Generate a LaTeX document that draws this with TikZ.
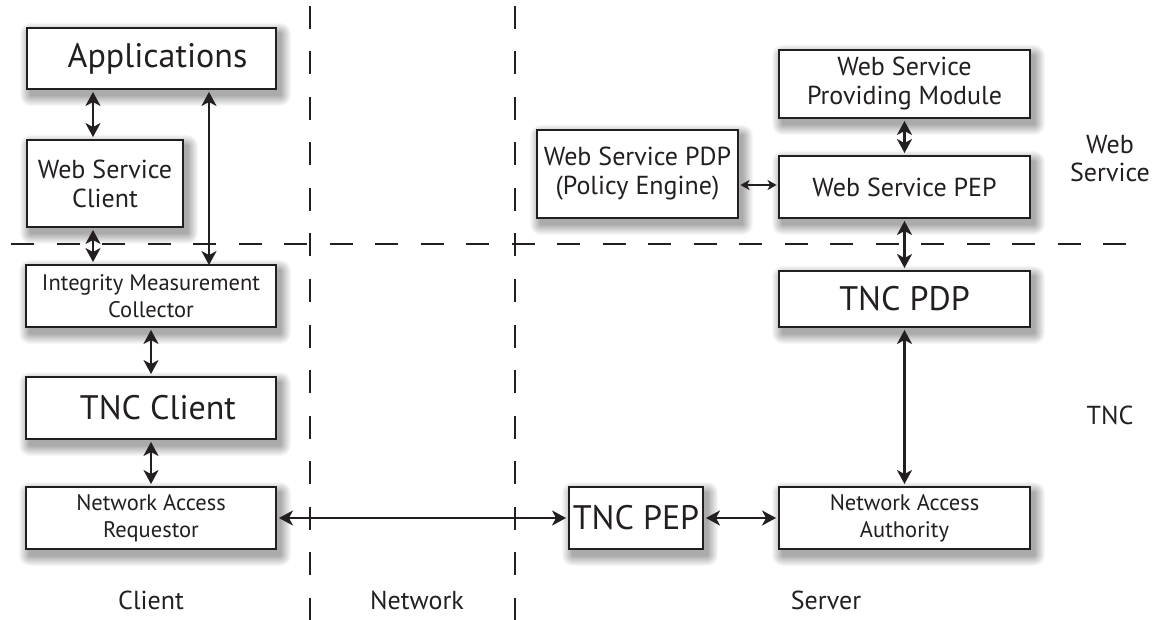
\documentclass[tikz,border=0pt]{standalone}
\usepackage{fontspec}
\setmainfont{PT Sans}
\usetikzlibrary{arrows.meta}
\definecolor{ink}{HTML}{231F20}
% soft drop shadow for a box given by centre (#1,#2), width #3 and height #4
\newcommand{\boxhalo}[4]{%
  \foreach \i in {11,...,1}{%
    \pgfmathtruncatemacro{\lvl}{3*(12-\i)}%
    \fill[black!\lvl, rounded corners=\i pt]
      ({#1-#3/2+4-\i},{#2-#4/2+6-\i}) rectangle ({#1+#3/2+4+\i},{#2+#4/2+6+\i});
  }%
}
\begin{document}
\begin{tikzpicture}[x=1pt,y=-1pt,
  box/.style={draw=ink, line width=1.9pt, fill=white, inner sep=0pt, align=center, text=ink},
  link/.style={draw=ink, line width=2.2pt,
    {Stealth[length=14pt,width=15pt,inset=4pt]}-{Stealth[length=14pt,width=15pt,inset=4pt]},
    shorten <=2pt, shorten >=2pt},
  thinlink/.style={draw=ink, line width=1.6pt,
    {Stealth[length=9pt,width=10pt,inset=2.5pt]}-{Stealth[length=9pt,width=10pt,inset=2.5pt]},
    shorten <=1.5pt, shorten >=1.5pt},
  divider/.style={draw=ink, line width=1.7pt, dash pattern=on 23pt off 22.5pt},
  big/.style={font=\fontsize{34}{38}\selectfont},
  mid/.style={font=\fontsize{26}{29}\selectfont},
  small/.style={font=\fontsize{22.5}{27}\selectfont},
  lbl/.style={text=ink, font=\fontsize{26}{28}\selectfont, align=center, inner sep=0pt}]

\useasboundingbox (0,0) rectangle (1156,620);

% shadows under the boxes
\boxhalo{151.5}{58.5}{249}{61}
\boxhalo{105}{183.5}{156}{87}
\boxhalo{151}{296}{250}{62}
\boxhalo{151}{408}{250}{62}
\boxhalo{151}{518}{250}{62}
\boxhalo{636}{518}{134}{62}
\boxhalo{904.5}{518}{251}{62}
\boxhalo{904.5}{299}{251}{56}
\boxhalo{904.5}{187}{251}{62}
\boxhalo{904.5}{84}{251}{68}
\boxhalo{637.5}{174}{201}{88}

% region dividers
\draw[divider] (310,6) -- (310,620);
\draw[divider] (515,6) -- (515,620);
\draw[divider] (11,244) -- (1127,244);

% client side
\node[box, big, minimum width=249pt, minimum height=61pt] (app) at (151.5,58.5) {\hspace*{12pt}Applications};
\node[box, mid, minimum width=156pt, minimum height=87pt] (wsc) at (105,183.5) {Web Service\\Client};
\node[box, small, minimum width=250pt, minimum height=62pt] (imc) at (151,296) {Integrity Measurement\\Collector};
\node[box, big, minimum width=250pt, minimum height=62pt] (tncc) at (151,408) {\hspace*{14pt}TNC Client};
\node[box, small, minimum width=250pt, minimum height=62pt] (nar) at (151,518) {Network Access\\Requestor};

% server side
\node[box, big, minimum width=134pt, minimum height=62pt] (tncpep) at (636,518) {TNC PEP};
\node[box, small, minimum width=251pt, minimum height=62pt] (naa) at (904.5,518) {Network Access\\Authority};
\node[box, big, minimum width=251pt, minimum height=56pt] (tncpdp) at (904.5,299) {TNC PDP};
\node[box, mid, minimum width=251pt, minimum height=62pt] (wspep) at (904.5,187) {Web Service PEP};
\node[box, mid, minimum width=251pt, minimum height=68pt] (wspm) at (904.5,84) {Web Service\\Providing Module};
\node[box, mid, minimum width=201pt, minimum height=88pt] (wspdp) at (637.5,174) {Web Service PDP\\(Policy Engine)};

% column labels and layer labels
\node[lbl] (lclient) at (151,600) {Client};
\node[lbl] (lnet) at (417,600) {Network};
\node[lbl] (lserver) at (826,600) {Server};
\node[lbl] (lws) at (1110,159) {Web\\Service};
\node[lbl] (ltnc) at (1110,415) {TNC};

% connector guides
\coordinate (xa) at (93,0);
\coordinate (xb) at (209,0);
\coordinate (yp) at (0,185);

% client connectors
\draw[link] (app.south -| xa) -- (wsc.north -| xa);
\draw[link] (app.south -| xb) -- ([yshift=-3pt]imc.north -| xb);
\draw[link] (wsc.south -| xa) -- (imc.north -| xa);
\draw[link] (imc.south) -- (tncc.north);
\draw[link] (tncc.south) -- (nar.north);

% network and server connectors
\draw[link] (nar.east) -- (tncpep.west);
\draw[link] (tncpep.east) -- (naa.west);
\draw[link] (tncpdp.south) -- (naa.north);
\draw[link] (wspep.south) -- (tncpdp.north);
\draw[link] (wspm.south) -- (wspep.north);
\draw[thinlink] (wspdp.east |- yp) -- (wspep.west |- yp);
\end{tikzpicture}
\end{document}
